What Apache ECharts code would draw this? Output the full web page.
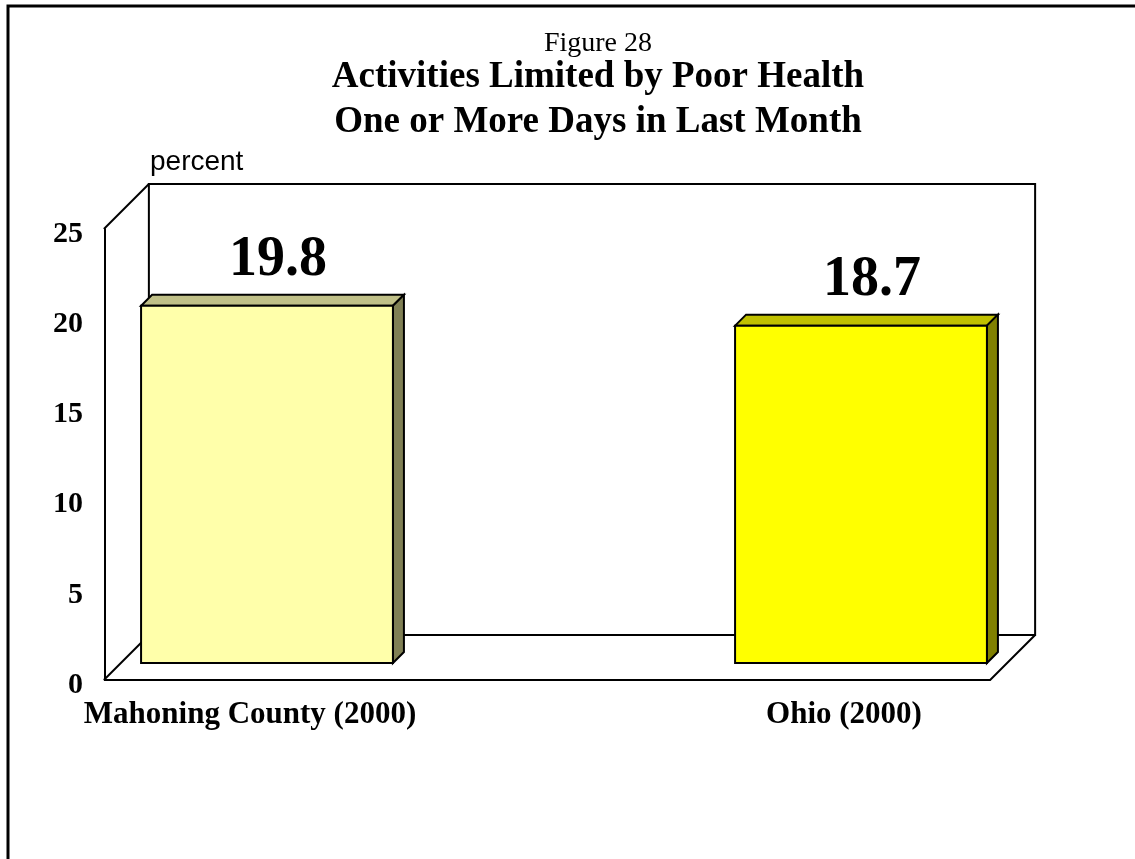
<!DOCTYPE html>
<html>
<head>
<meta charset="utf-8">
<title>Figure 28</title>
<script src="https://cdn.jsdelivr.net/npm/echarts@6.0.0/dist/echarts.min.js"></script>
<style>
  html, body { margin: 0; padding: 0; background: #fff; }
  #chart { width: 1135px; height: 859px; }
</style>
</head>
<body>
<div id="chart"></div>
<script>
// data
var categories = ['Mahoning County (2000)', 'Ohio (2000)'];
var values = [19.8, 18.7];
var yMin = 0;
var yMax = 25;
var yStep = 5;

// look of the 3d box
var serif = '"Liberation Serif", "Times New Roman", serif';
var barColors = [
  { front: '#FFFFAA', top: '#C0C088', side: '#808055' },
  { front: '#FFFF00', top: '#C0C000', side: '#808000' }
];
var FLOOR_DX = 45, FLOOR_DY = 45;   // depth of floor / back wall
var BAR_SHIFT = 17;                 // bars stand a bit behind the front plane
var BAR_DEPTH = 11;
var BAR_HALF = 0.212;               // half bar width, as part of the band
var FRAME_PAD = 0.246;              // frame edge beyond outer bar centres

var chart = echarts.init(document.getElementById('chart'));

function renderFrame(params, api) {
  var band = api.size([1, 0])[0];
  var p0 = api.coord([0, yMin]);
  var p1 = api.coord([categories.length - 1, yMin]);
  var pt = api.coord([0, yMax]);
  var fl = p0[0] - band * FRAME_PAD;
  var fr = p1[0] + band * FRAME_PAD;
  var yb = p0[1], yt = pt[1];
  var line = { stroke: '#000', lineWidth: 2, fill: null };
  return {
    type: 'group',
    children: [
      // back wall
      { type: 'polygon', shape: { points: [[fl + FLOOR_DX, yb - FLOOR_DY], [fl + FLOOR_DX, yt - FLOOR_DY], [fr + FLOOR_DX, yt - FLOOR_DY], [fr + FLOOR_DX, yb - FLOOR_DY]] }, style: line },
      // left wall top edge
      { type: 'line', shape: { x1: fl, y1: yt, x2: fl + FLOOR_DX, y2: yt - FLOOR_DY }, style: line },
      // floor
      { type: 'line', shape: { x1: fl, y1: yb, x2: fl + FLOOR_DX, y2: yb - FLOOR_DY }, style: line },
      { type: 'polyline', shape: { points: [[fl, yb], [fr, yb], [fr + FLOOR_DX, yb - FLOOR_DY]] }, style: line }
    ]
  };
}

function renderBar(params, api) {
  var i = api.value(0);
  var v = api.value(1);
  var base = api.coord([i, yMin]);
  var top = api.coord([i, v]);
  var band = api.size([1, 0])[0];
  var half = band * BAR_HALF;
  var cx = base[0] + BAR_SHIFT;
  var x0 = cx - half, x1 = cx + half;
  var yb = base[1] - BAR_SHIFT, yt = top[1] - BAR_SHIFT;
  var d = BAR_DEPTH;
  var c = barColors[params.dataIndex];
  var edge = { stroke: '#000', lineWidth: 2 };
  return {
    type: 'group',
    children: [
      { type: 'polygon', shape: { points: [[x0, yt], [x1, yt], [x1 + d, yt - d], [x0 + d, yt - d]] }, style: Object.assign({ fill: c.top }, edge) },
      { type: 'polygon', shape: { points: [[x1, yt], [x1 + d, yt - d], [x1 + d, yb - d], [x1, yb]] }, style: Object.assign({ fill: c.side }, edge) },
      { type: 'rect', shape: { x: x0, y: yt, width: x1 - x0, height: yb - yt }, style: Object.assign({ fill: c.front }, edge) },
      {
        type: 'text',
        style: {
          text: v.toFixed(1), x: cx + 11, y: yt - d - 6,
          align: 'center', verticalAlign: 'bottom',
          font: 'bold 56px ' + serif, fill: '#000'
        }
      }
    ]
  };
}

var option = {
  backgroundColor: '#fff',
  animation: false,
  title: [
    {
      text: 'Figure 28', left: 598, top: 30, padding: 0, textAlign: 'center',
      textStyle: { fontFamily: serif, fontWeight: 'normal', fontSize: 28, lineHeight: 28, color: '#000' }
    },
    {
      text: 'Activities Limited by Poor Health\nOne or More Days in Last Month',
      left: 598, top: 55, padding: 0, textAlign: 'center',
      textStyle: { fontFamily: serif, fontWeight: 'bold', fontSize: 37, lineHeight: 45, color: '#000' }
    }
  ],
  graphic: [
    // outer frame of the figure
    { type: 'polyline', shape: { points: [[8, 862], [8, 6], [1140, 6]] }, style: { stroke: '#000', lineWidth: 3, fill: null } }
  ],
  grid: {
    left: -47, right: -6, top: 229, bottom: 179,
    outerBoundsMode: 'none', containLabel: false
  },
  xAxis: {
    type: 'category',
    data: categories,
    axisLine: { show: false },
    axisTick: { show: false },
    splitLine: { show: false },
    axisLabel: {
      margin: 19, interval: 0,
      fontFamily: serif, fontWeight: 'bold', fontSize: 31, lineHeight: 31, color: '#000'
    }
  },
  yAxis: {
    type: 'value',
    min: yMin, max: yMax, interval: yStep,
    offset: -152,
    name: 'percent',
    nameLocation: 'end',
    nameGap: 67,
    nameTextStyle: {
      fontFamily: '"Liberation Sans", Arial, sans-serif', fontSize: 28, lineHeight: 28,
      color: '#000', align: 'left', verticalAlign: 'middle', padding: [0, 0, 0, 45]
    },
    axisLine: { show: true, lineStyle: { color: '#000', width: 2 } },
    axisTick: { show: false },
    splitLine: { show: false },
    axisLabel: {
      margin: 22, verticalAlign: 'top', lineHeight: 10,
      fontFamily: serif, fontWeight: 'bold', fontSize: 30, color: '#000'
    }
  },
  series: [
    {
      name: 'frame',
      type: 'custom',
      z: 1,
      renderItem: renderFrame,
      data: [[categories[0], yMax]],
      silent: true
    },
    {
      name: 'percent',
      type: 'custom',
      z: 2,
      renderItem: renderBar,
      data: values.map(function (v, i) { return [categories[i], v]; })
    }
  ]
};

chart.setOption(option);
</script>
</body>
</html>
